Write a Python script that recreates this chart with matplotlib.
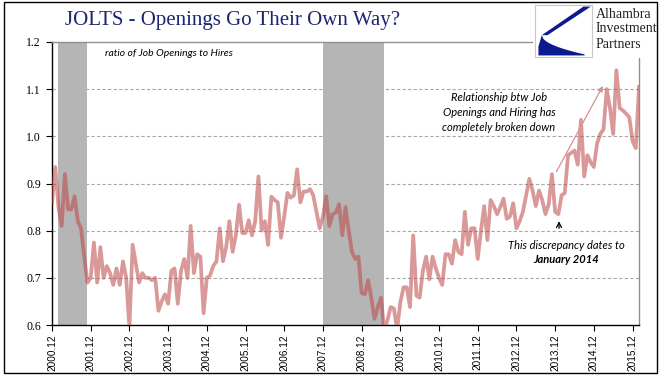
import matplotlib
matplotlib.use("Agg")
import matplotlib.pyplot as plt
from matplotlib.patches import Rectangle, Polygon
import numpy as np

# ---------------- data ----------------
start_label = "2000.12"
ratio = [
    0.86, 0.935, 0.85, 0.81, 0.92, 0.845, 0.845, 0.873, 0.82, 0.805, 0.745,
    0.69, 0.70, 0.775, 0.69, 0.765, 0.70, 0.725, 0.71, 0.685, 0.72, 0.685, 0.735, 0.70, 0.595, 0.77,
    0.73, 0.69, 0.71, 0.70, 0.70, 0.695, 0.70, 0.63, 0.65, 0.665, 0.645, 0.715, 0.72, 0.645, 0.715,
    0.74, 0.70, 0.81, 0.71, 0.75, 0.745, 0.625, 0.70, 0.705, 0.725, 0.735, 0.805, 0.735, 0.765, 0.82,
    0.755, 0.79, 0.855, 0.795, 0.795, 0.822, 0.79, 0.82,
    0.915, 0.80, 0.82, 0.77, 0.872, 0.865, 0.86, 0.785, 0.83, 0.88, 0.87, 0.875,
    0.93, 0.86, 0.883, 0.883, 0.888, 0.875, 0.84, 0.805, 0.83, 0.873, 0.81, 0.835, 0.838, 0.856,
    0.79, 0.85, 0.80, 0.755, 0.74, 0.745, 0.668, 0.665, 0.695, 0.658, 0.613, 0.638, 0.658, 0.59,
    0.61, 0.638, 0.635,
    0.59, 0.648, 0.68, 0.68, 0.638, 0.79, 0.662, 0.658, 0.715, 0.745, 0.697, 0.745, 0.72, 0.70,
    0.685, 0.75, 0.75, 0.73, 0.78,
    0.755, 0.75, 0.84, 0.77, 0.805, 0.805, 0.74, 0.80, 0.852, 0.78, 0.865, 0.852, 0.835, 0.85,
    0.868, 0.825, 0.83, 0.858, 0.805, 0.82, 0.84, 0.875, 0.91, 0.885, 0.852, 0.885, 0.865, 0.835,
    0.856, 0.92,
    0.84, 0.835, 0.875, 0.88, 0.96, 0.965, 0.97, 0.94, 1.035, 0.915, 0.96, 0.945, 0.935, 0.985,
    1.005, 1.015, 1.10, 1.06, 1.005, 1.14, 1.06, 1.055, 1.048, 1.04, 0.99, 0.975, 1.105,
]
tick_labels = ["2000.12", "2001.12", "2002.12", "2003.12", "2004.12", "2005.12",
               "2006.12", "2007.12", "2008.12", "2009.12", "2010.12", "2011.12",
               "2012.12", "2013.12", "2014.12", "2015.12"]
recessions = [("2001.02", "2001.11"), ("2007.12", "2009.07")]
y_ticks = [0.6, 0.7, 0.8, 0.9, 1.0, 1.1, 1.2]


def month_index(label):
    y0, m0 = map(int, start_label.split("."))
    y, m = map(int, label.split("."))
    return (y - y0) * 12 + (m - m0)


x = np.arange(len(ratio))

# ---------------- figure ----------------
W, H = 669, 392
fig = plt.figure(figsize=(W / 100, H / 100), dpi=100)


def fx(px):
    return px / W


def fy(py):
    return 1 - py / H


ax = fig.add_axes([fx(52), fy(325), fx(639) - fx(52), fy(42) - fy(325)])

for a, b in recessions:
    ax.axvspan(month_index(a), month_index(b), color="#b5b5b5", lw=0, zorder=1)

for v in y_ticks[1:-1]:
    ax.axhline(v, color="#a8a8a8", lw=0.8, ls=(0, (3, 2)), zorder=0.5)

ax.plot(x, ratio, color=(0.74, 0.27, 0.27), alpha=0.55, lw=2.7, zorder=3,
        solid_joinstyle="round")

ax.set_xlim(0, len(ratio) - 1)
ax.set_ylim(0.6, 1.2)
ax.set_yticks(y_ticks)
ax.set_yticklabels([f"{v:.1f}" for v in y_ticks], family="Liberation Serif", fontsize=8.5)
tpos = [month_index(t) for t in tick_labels]
ax.set_xticks(tpos)
ax.set_xticklabels(tick_labels, rotation=90, family="Liberation Sans", fontsize=7.2)
ax.tick_params(axis="x", direction="out", length=4, width=0.8, pad=3)
ax.tick_params(axis="y", direction="out", length=4, width=0.8, pad=4)
for s in ["left", "bottom"]:
    ax.spines[s].set_color("black")
    ax.spines[s].set_linewidth(1.0)
for s in ["top", "right"]:
    ax.spines[s].set_color("#909090")
    ax.spines[s].set_linewidth(1.0)

# annotations
ax.text(16.4, 1.176, "ratio of Job Openings to Hires", family="Lato", style="italic",
        fontsize=7.5, va="center", ha="left")
ax.text(138.6, 1.051, "Relationship btw Job\nOpenings and Hiring has\ncompletely broken down",
        family="Lato", style="italic", fontsize=8, ha="center", va="center", linespacing=1.45)
ax.text(159.4, 0.769, "This discrepancy dates to", family="Lato", style="italic",
        fontsize=8, ha="center", va="center")
ax.text(159.4, 0.738, "January 2014", family="Lato", style="italic", weight="bold",
        fontsize=8, ha="center", va="center")
ax.annotate("", xy=(157.2, 0.826), xytext=(157.2, 0.799),
            arrowprops=dict(arrowstyle="->", color="black", lw=0.9, mutation_scale=9))
ax.annotate("", xy=(171.2, 1.112), xytext=(156, 0.92),
            arrowprops=dict(arrowstyle="-|>", color="#d89090", lw=0.9, mutation_scale=8))

# title
fig.text(fx(65), fy(21), "JOLTS - Openings Go Their Own Way?", family="Liberation Serif",
         fontsize=15, color="#1b2670", va="center", ha="left")

# logo area (white backing)
fig.patches.append(Rectangle((fx(533), fy(58)), fx(660) - fx(533), fy(1) - fy(58),
                             transform=fig.transFigure, facecolor="white", edgecolor="none",
                             zorder=5))
lax = fig.add_axes([fx(535), fy(57), fx(592) - fx(535), fy(5) - fy(57)], zorder=6)
lax.set_xlim(0, 1)
lax.set_ylim(0, 1)
lax.set_xticks([])
lax.set_yticks([])
for s in lax.spines.values():
    s.set_color("#c8c8c8")
    s.set_linewidth(0.8)
navy = "#0b1a8c"
lax.add_patch(Polygon([[0.98, 0.97], [0.85, 0.97], [0.12, 0.42], [0.22, 0.42]],
                      closed=True, color=navy, lw=0))
t = np.linspace(0, 1, 30)
upper = np.column_stack([0.12 + 0.75 * t, 0.42 - 0.37 * np.sqrt(t)])
lower = np.column_stack([0.87 - 0.75 * t, 0.03 + 0.0 * t])
lax.add_patch(Polygon(np.vstack([upper, lower, [[0.06, 0.03], [0.06, 0.2]]]),
                      closed=True, color=navy, lw=0))
for i, word in enumerate(["Alhambra", "Investment", "Partners"]):
    fig.text(fx(596), fy(14 + 15 * i), word, family="Liberation Serif", fontsize=10,
             color="#222222", va="center", ha="left", zorder=7)

# outer frame
fig.patches.append(Rectangle((fx(4), fy(373)), fx(657) - fx(4), fy(2) - fy(373),
                             transform=fig.transFigure, facecolor="none",
                             edgecolor="black", lw=1.0, zorder=8))

fig.savefig("out.png", dpi=100, facecolor="white")
